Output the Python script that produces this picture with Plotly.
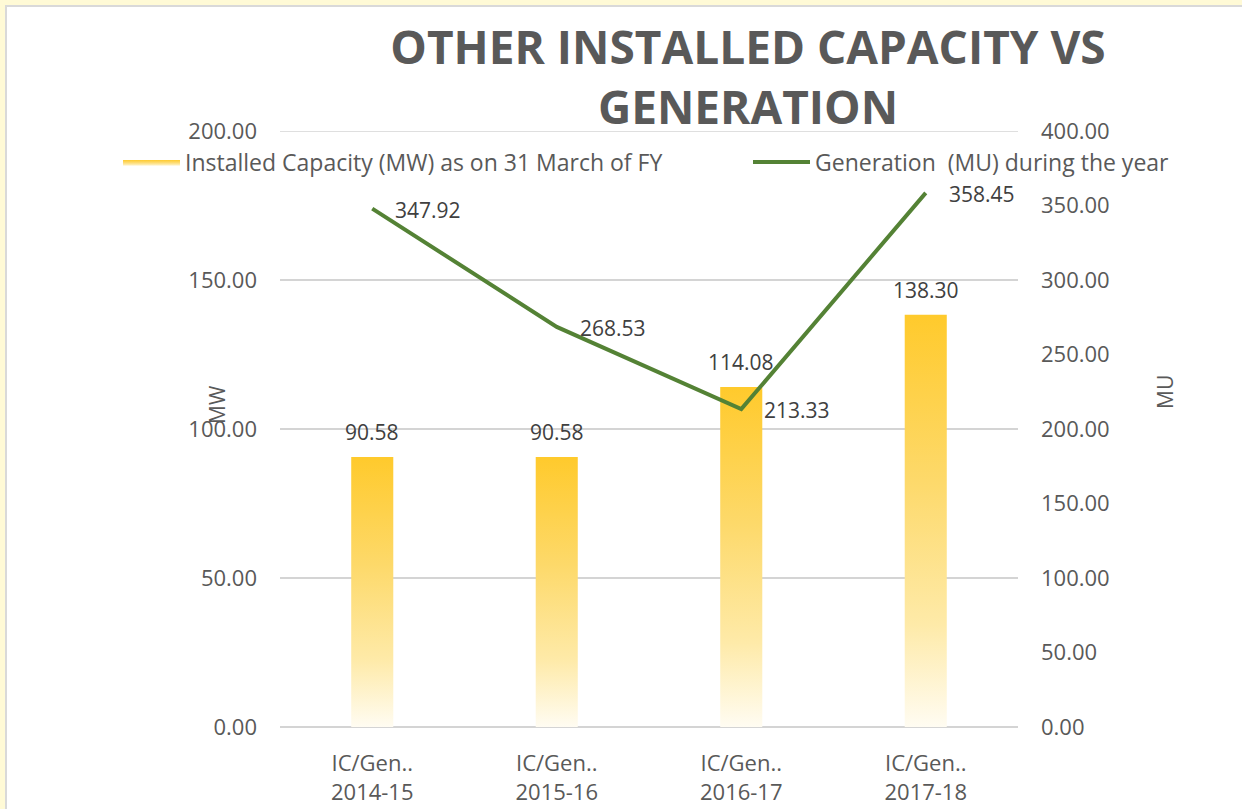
import plotly.graph_objects as go

# ---- data ----
categories = ["IC/Gen..<br>2014-15", "IC/Gen..<br>2015-16", "IC/Gen..<br>2016-17", "IC/Gen..<br>2017-18"]
installed_capacity_mw = [90.58, 90.58, 114.08, 138.30]
generation_mu = [347.92, 268.53, 213.33, 358.45]
left_ticks = [0, 50, 100, 150, 200]
right_ticks = [0, 50, 100, 150, 200, 250, 300, 350, 400]

# ---- layout geometry ----
W, H = 1242, 809
ML, MR, MT, MB = 280, 224, 131, 82
PW = W - ML - MR
PH = H - MT - MB

def px_x(p):
    return (p - ML) / PW

def px_y(p):
    return (H - MB - p) / PH

GRAY = "#595959"
GRID = "#D4D4D4"
FONT = "Open Sans"
BAR_HALF = 0.114

fig = go.Figure()

xs = list(range(len(categories)))

# bars as gradient-filled polygons (one per category)
for i, v in enumerate(installed_capacity_mw):
    fig.add_trace(go.Scatter(
        x=[i - BAR_HALF, i - BAR_HALF, i + BAR_HALF, i + BAR_HALF, i - BAR_HALF],
        y=[0, v, v, 0, 0],
        mode="lines", fill="toself",
        line=dict(width=0, color="rgba(0,0,0,0)"),
        fillgradient=dict(type="vertical",
                          colorscale=[[0, "#FFFCF2"], [0.25, "#FEEAA8"], [0.6, "#FDD96A"], [1, "#FFCA2C"]]),
        name="Installed Capacity (MW) as on 31 March of FY",
        showlegend=(i == 0), legend="legend", hoverinfo="skip",
        yaxis="y",
    ))

fig.add_trace(go.Scatter(
    x=xs, y=generation_mu, mode="lines",
    line=dict(color="#548235", width=4),
    name="Generation  (MU) during the year",
    legend="legend2", yaxis="y2",
))

annotations = []
for i, v in enumerate(installed_capacity_mw):
    annotations.append(dict(x=i, y=v, xref="x", yref="y", text=f"{v:.2f}", showarrow=False,
                            yshift=25, font=dict(family=FONT, size=21, color="#404040")))
for i, v in enumerate(generation_mu):
    annotations.append(dict(x=i, y=v, xref="x", yref="y2", text=f"{v:.2f}", showarrow=False,
                            xanchor="left", xshift=21, yshift=-1,
                            font=dict(family=FONT, size=21, color="#404040")))
annotations.append(dict(x=px_x(217), y=px_y(405), xref="paper", yref="paper", text="MW",
                        xanchor="center", yanchor="middle",
                        textangle=-90, showarrow=False, font=dict(family=FONT, size=21, color=GRAY)))
annotations.append(dict(x=px_x(1165), y=px_y(392), xref="paper", yref="paper", text="MU",
                        xanchor="center", yanchor="middle",
                        textangle=-90, showarrow=False, font=dict(family=FONT, size=21, color=GRAY)))

fig.update_layout(
    width=W, height=H,
    margin=dict(l=ML, r=MR, t=MT, b=MB, pad=0, autoexpand=False),
    paper_bgcolor="#FFFAD6",
    plot_bgcolor="rgba(0,0,0,0)",
    font=dict(family=FONT, color=GRAY),
    title=dict(text="OTHER INSTALLED CAPACITY VS<br>GENERATION",
               x=px_x(748), xref="paper", xanchor="center",
               y=1 - 64 / H, yref="container", yanchor="top",
               font=dict(family=FONT, size=46, color=GRAY, weight="bold")),
    xaxis=dict(range=[-0.5, 3.5], tickvals=xs, ticktext=categories,
               showgrid=False, zeroline=False, showline=False, ticks="",
               automargin=False, ticklabelstandoff=21,
               tickfont=dict(family=FONT, size=22, color=GRAY)),
    yaxis=dict(range=[0, 200], tickvals=left_ticks, tickformat=".2f",
               showgrid=True, gridcolor=GRID, gridwidth=1.5,
               zeroline=True, zerolinecolor=GRID, zerolinewidth=2,
               automargin=False, ticks="", ticklabelstandoff=22,
               tickfont=dict(family=FONT, size=22, color=GRAY)),
    yaxis2=dict(range=[0, 400], tickvals=right_ticks, tickformat=".2f",
                overlaying="y", side="right", showgrid=False, zeroline=False,
                automargin=False, ticks="", ticklabelstandoff=22,
                tickfont=dict(family=FONT, size=22, color=GRAY)),
    legend=dict(x=px_x(118), y=px_y(162), xanchor="left", yanchor="middle",
                bgcolor="rgba(0,0,0,0)", itemwidth=57,
                font=dict(family=FONT, size=23, color=GRAY)),
    legend2=dict(x=px_x(748), y=px_y(162), xanchor="left", yanchor="middle",
                 bgcolor="rgba(0,0,0,0)", itemwidth=57,
                 font=dict(family=FONT, size=23, color=GRAY)),
    annotations=annotations,
    shapes=[
        dict(type="rect", xref="paper", yref="paper", layer="below",
             x0=px_x(6), x1=px_x(1260), y0=px_y(6), y1=px_y(830),
             fillcolor="white", line=dict(color="#D9D9D9", width=2)),
        dict(type="line", xref="paper", yref="y", layer="below",
             x0=0, x1=1, y0=left_ticks[-1], y1=left_ticks[-1],
             line=dict(color=GRID, width=1.5)),
    ],
    showlegend=True,
)

fig.write_html("out.html", config={"displayModeBar": False},
               post_script="document.body.style.margin='0px';")
